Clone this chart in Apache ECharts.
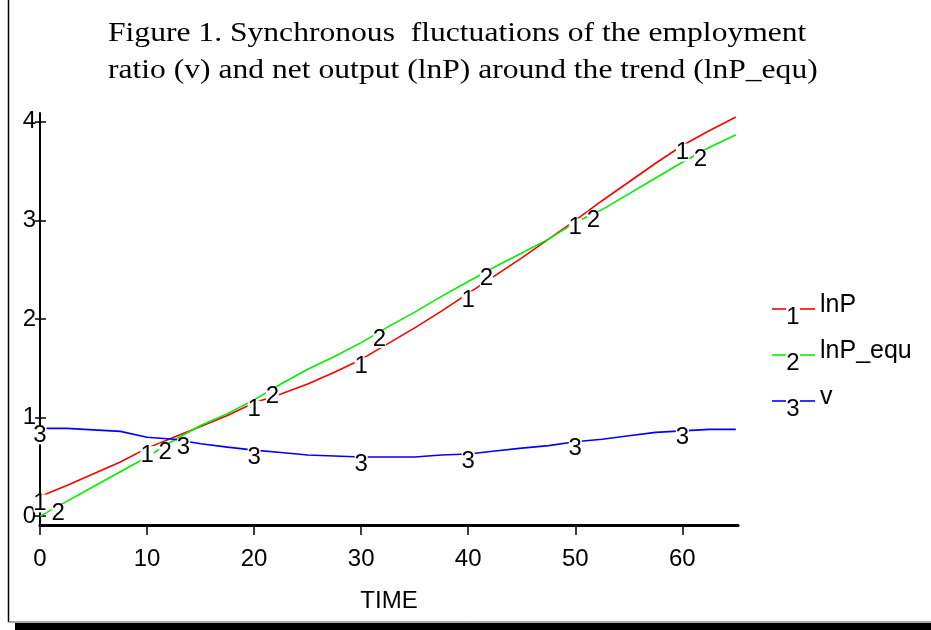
<!DOCTYPE html>
<html><head><meta charset="utf-8">
<script src="https://cdn.jsdelivr.net/npm/echarts@6/dist/echarts.min.js"></script>
<style>html,body{margin:0;padding:0;background:#fff}#c{width:931px;height:630px}</style>
</head><body><div id="c"></div>
<script>
// ---- data ----
const titleLines = ['Figure 1. Synchronous  fluctuations of the employment', 'ratio (v) and net output (lnP) around the trend (lnP_equ)'];
const xName = 'TIME';
const time    = [0, 2.5, 5, 7.5, 10, 12.5, 15, 17.5, 20, 22.5, 25, 27.5, 30, 32.5, 35, 37.5, 40, 42.5, 45, 47.5, 50, 52.5, 55, 57.5, 60, 62.5, 65];
const lnP     = [0.20, 0.31, 0.43, 0.55, 0.69, 0.80, 0.91, 1.02, 1.15, 1.24, 1.34, 1.46, 1.59, 1.75, 1.91, 2.08, 2.26, 2.44, 2.62, 2.81, 3.00, 3.20, 3.39, 3.58, 3.76, 3.91, 4.05];
const lnPequ  = [0.00, 0.15, 0.30, 0.45, 0.60, 0.77, 0.92, 1.04, 1.18, 1.34, 1.49, 1.62, 1.76, 1.92, 2.07, 2.23, 2.38, 2.53, 2.67, 2.81, 2.98, 3.11, 3.27, 3.43, 3.59, 3.74, 3.87];
const v       = [0.89, 0.89, 0.875, 0.86, 0.80, 0.78, 0.735, 0.70, 0.67, 0.645, 0.62, 0.61, 0.60, 0.60, 0.60, 0.62, 0.63, 0.66, 0.69, 0.715, 0.755, 0.78, 0.815, 0.85, 0.865, 0.88, 0.88];
const seriesNames = ['lnP', 'lnP_equ', 'v'];
const seriesTags  = ['1', '2', '3'];
const seriesColors = ['#ff0000', '#00f000', '#0000ff'];
const labelTimes = [
  [0, 10, 20, 30, 40, 50, 60],
  [1.7, 11.7, 21.7, 31.7, 41.7, 51.7, 61.7],
  [0, 13.4, 20, 30, 40, 50, 60]
];
const xTicks = [0, 10, 20, 30, 40, 50, 60];
const yTicks = [0, 1, 2, 3, 4];

const values = [lnP, lnPequ, v];
function interp(arr, t) {
  for (let i = 0; i < time.length - 1; i++) {
    if (t >= time[i] && t <= time[i + 1]) {
      const f = (t - time[i]) / (time[i + 1] - time[i]);
      return arr[i] + f * (arr[i + 1] - arr[i]);
    }
  }
  return arr[arr.length - 1];
}

const chart = echarts.init(document.getElementById('c'), null, {renderer: 'canvas'});
const sans = 'Liberation Sans, Arial, Helvetica, sans-serif';
const serif = 'Liberation Serif, Times New Roman, serif';

const series = values.map((arr, k) => ({
  type: 'line',
  name: seriesNames[k],
  xAxisIndex: 0, yAxisIndex: 0,
  data: time.map((t, i) => [t, arr[i]]),
  showSymbol: false,
  symbol: 'none',
  lineStyle: {color: seriesColors[k], width: 1.6},
  itemStyle: {color: seriesColors[k]},
  animation: false,
  z: 2 + k,
  markPoint: {
    animation: false,
    symbol: 'rect',
    symbolSize: [13, 18],
    symbolOffset: [0, 7],
    itemStyle: {color: '#ffffff'},
    label: {show: true, position: 'inside', formatter: seriesTags[k], color: '#000', fontSize: 24, fontFamily: sans},
    data: labelTimes[k].map(t => ({coord: [t, interp(arr, t)]}))
  }
}));

const graphics = [];
// title (real text, slightly widened like the original)
titleLines.forEach((ln, i) => {
  graphics.push({type: 'text', x: 108, y: 48 + i * 37, scaleX: 1.17, scaleY: 1.03,
    style: {text: ln, font: '27px ' + serif, fill: '#000', textAlign: 'left', textVerticalAlign: 'bottom'}});
});
// legend drawn as graphics
const legendY = [309, 355, 401];
seriesNames.forEach((nm, k) => {
  const y = legendY[k];
  graphics.push({type: 'line', shape: {x1: 772, y1: y, x2: 786, y2: y}, style: {stroke: seriesColors[k], lineWidth: 1.6}});
  graphics.push({type: 'line', shape: {x1: 800, y1: y, x2: 815, y2: y}, style: {stroke: seriesColors[k], lineWidth: 1.6}});
  graphics.push({type: 'text', x: 793, y: y + 8, style: {text: seriesTags[k], font: '24px ' + sans, fill: '#000', textAlign: 'center', textVerticalAlign: 'middle'}});
  graphics.push({type: 'text', x: 820, y: y - 4, style: {text: nm, font: '25px ' + sans, fill: '#000', textAlign: 'left', textVerticalAlign: 'middle'}});
});
// frame
graphics.push({type: 'line', shape: {x1: 8.5, y1: 0, x2: 8.5, y2: 622}, style: {stroke: '#000', lineWidth: 1.5}});
graphics.push({type: 'line', shape: {x1: 8, y1: 622, x2: 931, y2: 622}, style: {stroke: '#555', lineWidth: 1}});
graphics.push({type: 'rect', shape: {x: 15, y: 623, width: 916, height: 7}, style: {fill: '#000'}});

chart.setOption({
  backgroundColor: '#fff',
  animation: false,
  grid: {left: 40, right: 193, top: 113, bottom: 105, containLabel: false, outerBoundsMode: 'none'},
  xAxis: [{
    type: 'value', min: 0, max: 65.2,
    name: xName, nameLocation: 'middle', nameGap: 64,
    nameTextStyle: {fontFamily: sans, fontSize: 24, color: '#000'},
    axisLine: {show: true, onZero: false, lineStyle: {color: '#000', width: 3}},
    axisTick: {show: true, length: 10, customValues: xTicks, lineStyle: {color: '#000', width: 1.5}},
    axisLabel: {show: true, customValues: xTicks, margin: 22, fontFamily: sans, fontSize: 24, color: '#000'},
    splitLine: {show: false}
  }],
  yAxis: [{
    type: 'value', min: -0.09, max: 4.09,
    axisLine: {show: true, onZero: false, lineStyle: {color: '#000', width: 2}},
    axisTick: {show: true, length: 5, customValues: yTicks, lineStyle: {color: '#000', width: 1.5}},
    axisLabel: {show: true, customValues: yTicks, margin: 4, fontFamily: sans, fontSize: 24, color: '#000'},
    splitLine: {show: false}
  }, {
    type: 'value', min: -0.09, max: 4.09, position: 'left',
    axisLine: {show: false}, axisLabel: {show: false}, splitLine: {show: false},
    axisTick: {show: true, inside: true, length: 6, customValues: yTicks, lineStyle: {color: '#000', width: 1.5}}
  }],
  series: series,
  graphic: graphics
});
</script></body></html>
